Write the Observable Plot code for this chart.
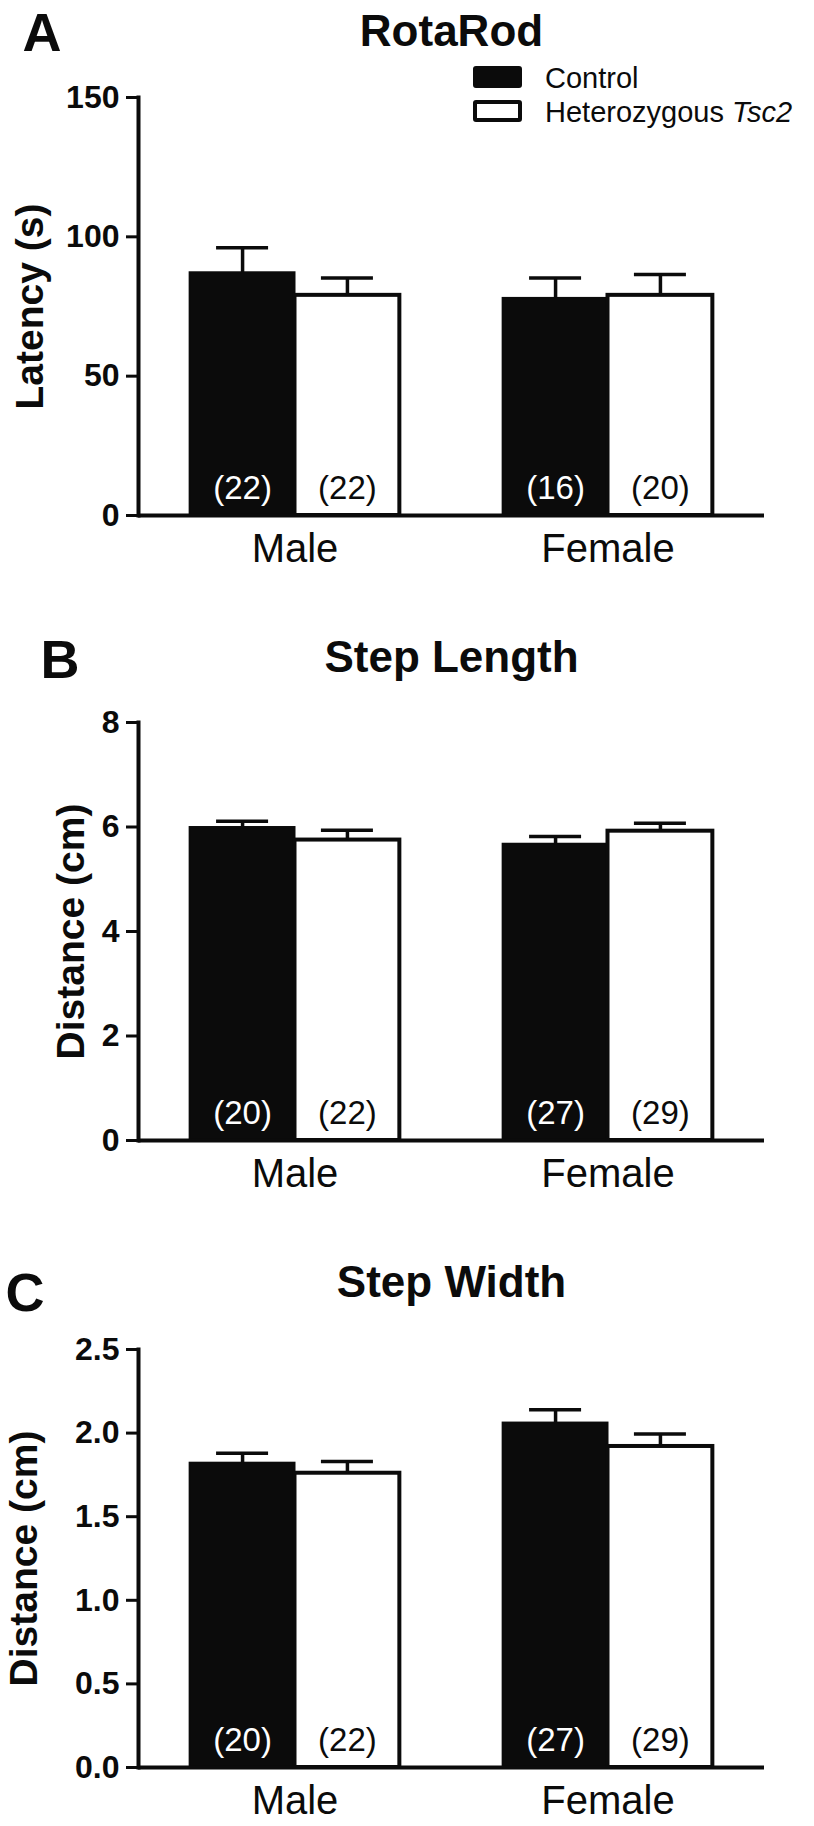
<!DOCTYPE html>
<html>
<head>
<meta charset="utf-8">
<script src="https://cdn.jsdelivr.net/npm/d3@7"></script>
<script src="https://cdn.jsdelivr.net/npm/@observablehq/plot@0.6"></script>
<style>
  body { margin: 0; background: #fff; }
  #root { position: relative; width: 814px; height: 1826px; font-family: "Liberation Sans", Arial, Helvetica, sans-serif; color: #0b0b0b; }
  .panel { position: absolute; left: 0; }
  .swatch { position: absolute; left: 473px; width: 49px; height: 22px; box-sizing: border-box; border: 4px solid #0b0b0b; border-radius: 3px; }
  .legtext { position: absolute; left: 545px; font-size: 29px; line-height: 29px; white-space: nowrap; }
</style>
</head>
<body>
<div id="root"></div>
<script>
// ---- data ----
const sexes = ["Male", "Female"];
const genotypes = ["Control", "Heterozygous Tsc2"];

// A: RotaRod latency (s)
const rotarodControl = [87.1, 77.9];
const rotarodControlSem = [9.0, 7.3];
const rotarodControlN = [22, 16];
const rotarodHet = [79.0, 79.0];
const rotarodHetSem = [6.2, 7.5];
const rotarodHetN = [22, 20];
const rotarodTicks = [0, 50, 100, 150];

// B: Step length (cm)
const stepLengthControl = [5.99, 5.67];
const stepLengthControlSem = [0.12, 0.15];
const stepLengthControlN = [20, 27];
const stepLengthHet = [5.75, 5.92];
const stepLengthHetSem = [0.19, 0.15];
const stepLengthHetN = [22, 29];
const stepLengthTicks = [0, 2, 4, 6, 8];

// C: Step width (cm)
const stepWidthControl = [1.82, 2.06];
const stepWidthControlSem = [0.06, 0.08];
const stepWidthControlN = [20, 27];
const stepWidthHet = [1.76, 1.92];
const stepWidthHetSem = [0.07, 0.075];
const stepWidthHetN = [22, 29];
const stepWidthTicks = [0, 0.5, 1.0, 1.5, 2.0, 2.5];

function table(c, cs, cn, h, hs, hn) {
  return sexes.flatMap((sex, i) => [
    {sex, geno: genotypes[0], mean: c[i], sem: cs[i], n: cn[i]},
    {sex, geno: genotypes[1], mean: h[i], sem: hs[i], n: hn[i]}
  ]);
}

// ---- layout ----
const W = 814, ML = 138, MR = 50;
const PI = 0.33, PO = 0.165;
const step = (W - ML - MR) / (sexes.length - PI + 2 * PO);
const half = step * (1 - PI) / 2;   // one bar's width
const cap = 52;
const BLACK = "#0b0b0b";
const FONT = '"Liberation Sans", Arial, Helvetica, sans-serif';

function panel(o) {
  const data = o.data;
  const ctrl = data.filter(d => d.geno === genotypes[0]);
  const het = data.filter(d => d.geno !== genotypes[0]);
  const top = d => d.mean + d.sem;
  return Plot.plot({
    width: W, height: o.height,
    marginLeft: ML, marginRight: MR, marginTop: o.marginTop, marginBottom: o.marginBottom,
    style: {fontFamily: FONT, color: BLACK, background: "white", overflow: "visible"},
    x: {type: "band", domain: sexes, paddingInner: PI, paddingOuter: PO, round: false},
    y: {domain: [0, o.yMax]},
    marks: [
      Plot.barY(ctrl, {x: "sex", y: "mean", fill: BLACK, stroke: BLACK, strokeWidth: 2, insetRight: half}),
      Plot.barY(het, {x: "sex", y: "mean", fill: "white", stroke: BLACK, strokeWidth: 4, insetLeft: half}),
      Plot.ruleX(ctrl, {x: "sex", y1: "mean", y2: top, dx: -half / 2, strokeWidth: 3.5, stroke: BLACK}),
      Plot.ruleX(het, {x: "sex", y1: "mean", y2: top, dx: half / 2, strokeWidth: 3.5, stroke: BLACK}),
      Plot.tickY(ctrl, {x: "sex", y: top, insetLeft: half / 2 - cap / 2, insetRight: half * 1.5 - cap / 2, strokeWidth: 3.5, stroke: BLACK}),
      Plot.tickY(het, {x: "sex", y: top, insetLeft: half * 1.5 - cap / 2, insetRight: half / 2 - cap / 2, strokeWidth: 3.5, stroke: BLACK}),
      Plot.ruleY([0], {strokeWidth: 4, stroke: BLACK}),
      Plot.frame({anchor: "left", strokeWidth: 4, stroke: BLACK}),
      Plot.text(ctrl, {x: "sex", y: 0, text: d => `(${d.n})`, dx: -half / 2, dy: -17, lineAnchor: "bottom", fill: "white", fontSize: 33}),
      Plot.text(het, {x: "sex", y: 0, text: d => `(${d.n})`, dx: half / 2, dy: -17, lineAnchor: "bottom", fill: BLACK, fontSize: 33}),
      Plot.axisY({ticks: o.ticks, tickFormat: o.tickFormat, tickSize: 12, tickPadding: 7, fontSize: 32, fontWeight: "bold", strokeWidth: 3, label: null}),
      Plot.axisX({tickSize: 0, tickPadding: 18, fontSize: 40, label: null}),
      Plot.text([o.yLabel], {text: d => d, frameAnchor: "left", rotate: -90, dx: o.labelX - ML, textAnchor: "middle", lineAnchor: "bottom", fontSize: 39, fontWeight: "bold", fill: BLACK}),
      Plot.text([o.title], {text: d => d, frameAnchor: "top", dy: o.titleDy, textAnchor: "middle", lineAnchor: "bottom", fontSize: 44, fontWeight: "bold", fill: BLACK}),
      Plot.text([o.letter], {text: d => d, frameAnchor: "top-left", dx: o.letterDx, dy: o.letterDy, textAnchor: "start", lineAnchor: "bottom", fontSize: 54, fontWeight: "bold", fill: BLACK})
    ]
  });
}

const root = document.getElementById("root");
function place(svg, top) {
  const div = document.createElement("div");
  div.className = "panel";
  div.style.top = top + "px";
  div.appendChild(svg);
  root.appendChild(div);
}

place(panel({
  data: table(rotarodControl, rotarodControlSem, rotarodControlN, rotarodHet, rotarodHetSem, rotarodHetN),
  height: 600, marginTop: 97, marginBottom: 85, yMax: 150, ticks: rotarodTicks, tickFormat: d => String(d),
  yLabel: "Latency (s)", labelX: 42, title: "RotaRod", titleDy: -52, letter: "A", letterDx: -116, letterDy: -47
}), 0);

place(panel({
  data: table(stepLengthControl, stepLengthControlSem, stepLengthControlN, stepLengthHet, stepLengthHetSem, stepLengthHetN),
  height: 640, marginTop: 122, marginBottom: 100, yMax: 8, ticks: stepLengthTicks, tickFormat: d => String(d),
  yLabel: "Distance (cm)", labelX: 83, title: "Step Length", titleDy: -51, letter: "B", letterDx: -98, letterDy: -45
}), 600);

place(panel({
  data: table(stepWidthControl, stepWidthControlSem, stepWidthControlN, stepWidthHet, stepWidthHetSem, stepWidthHetN),
  height: 586, marginTop: 109, marginBottom: 59, yMax: 2.5, ticks: stepWidthTicks, tickFormat: d3.format(".1f"),
  yLabel: "Distance (cm)", labelX: 36, title: "Step Width", titleDy: -53, letter: "C", letterDx: -133, letterDy: -39
}), 1240);

// legend (panel A)
const legendTops = [66, 100];
const legendTextTops = [63.5, 97.5];
genotypes.forEach((g, i) => {
  const sw = document.createElement("div");
  sw.className = "swatch";
  sw.style.top = legendTops[i] + "px";
  sw.style.background = i === 0 ? BLACK : "white";
  root.appendChild(sw);
  const t = document.createElement("div");
  t.className = "legtext";
  t.style.top = legendTextTops[i] + "px";
  const m = g.match(/^(.*?)(Tsc2)?$/);
  t.appendChild(document.createTextNode(m[1]));
  if (m[2]) { const it = document.createElement("i"); it.textContent = m[2]; t.appendChild(it); }
  root.appendChild(t);
});
</script>
</body>
</html>
